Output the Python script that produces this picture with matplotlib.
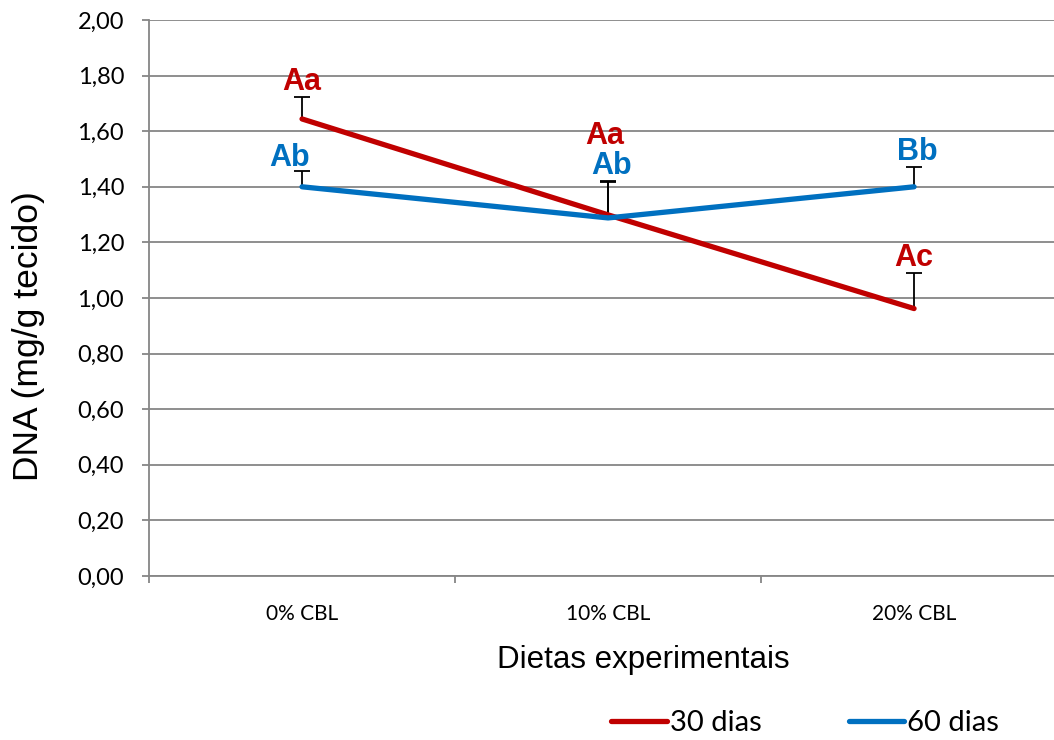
import matplotlib.pyplot as plt
import numpy as np

categorias = ['0% CBL', '10% CBL', '20% CBL']
dna_30 = [1.644, 1.299, 0.962]
erro_30 = [0.079, 0.121, 0.128]
dna_60 = [1.400, 1.288, 1.400]
erro_60 = [0.057, 0.129, 0.071]
letras_30 = ['Aa', 'Aa', 'Ac']
letras_60 = ['Ab', 'Ab', 'Bb']
yticks = [0.0, 0.2, 0.4, 0.6, 0.8, 1.0, 1.2, 1.4, 1.6, 1.8, 2.0]

VERMELHO = '#c00000'
AZUL = '#0070c0'

fig = plt.figure(figsize=(10.54, 7.40), dpi=100)
ax = fig.add_axes([0.1414, 0.2216, 0.871, 0.7514])

x = np.arange(len(categorias))

for y, e in [(dna_30, erro_30), (dna_60, erro_60)]:
    eb = ax.errorbar(x, y, yerr=[np.zeros(len(y)), e], fmt='none', ecolor='black',
                     elinewidth=1.3, capsize=6, capthick=1.3, zorder=2)
    eb[1][0].set_visible(False)

ax.plot(x, dna_30, color=VERMELHO, lw=3.8, solid_capstyle='round', zorder=3, label='30 dias')
ax.plot(x, dna_60, color=AZUL, lw=3.8, solid_capstyle='round', zorder=3, label='60 dias')

# letras de significancia, acima da barra de erro
rotulo = dict(fontsize=22, fontweight='bold', family='Liberation Sans',
              ha='center', va='center')
offs_30 = [(0, 0.055), (-0.01, 0.163), (0, 0.055)]
offs_60 = [(-0.04, 0.045), (0.01, 0.057), (0.01, 0.055)]
for i in range(len(categorias)):
    dx, dy = offs_30[i]
    ax.text(x[i] + dx, dna_30[i] + erro_30[i] + dy, letras_30[i], color=VERMELHO, **rotulo)
    dx, dy = offs_60[i]
    ax.text(x[i] + dx, dna_60[i] + erro_60[i] + dy, letras_60[i], color=AZUL, **rotulo)

ax.set_xlim(-0.5, 2.5)
ax.set_ylim(0, 2.0)
ax.set_yticks(yticks)
ax.set_yticklabels([f'{v:.2f}'.replace('.', ',') for v in yticks],
                   fontsize=17, family='Lato')
ax.set_xticks(x)
ax.set_xticklabels(categorias, fontsize=15, family='Lato')
ax.set_xticks([-0.5, 0.5, 1.5, 2.5], minor=True)
ax.tick_params(axis='x', which='major', length=0, pad=20)
ax.tick_params(axis='x', which='minor', length=5, color='#868686', width=1.3)
ax.tick_params(axis='y', length=5, color='#868686', width=1.3, pad=13)

ax.grid(axis='y', color='#868686', lw=1.3)
ax.set_axisbelow(True)
for s in ['top', 'right']:
    ax.spines[s].set_visible(False)
for s in ['left', 'bottom']:
    ax.spines[s].set_color('#868686')
    ax.spines[s].set_linewidth(1.3)

ax.set_ylabel('DNA (mg/g tecido)', fontsize=25.5, family='Liberation Sans',
              va='center')
ax.yaxis.set_label_coords(-0.1318, 0.432)
ax.set_xlabel('Dietas experimentais', fontsize=22.5, family='Liberation Sans',
              va='center')
ax.xaxis.set_label_coords(0.538, -0.151)

fig.legend(loc='lower left', bbox_to_anchor=(0.555, -0.03), ncol=2, frameon=False,
           prop={'family': 'Lato', 'size': 21}, handlelength=1.9, handletextpad=0.1,
           columnspacing=3.0)

fig.savefig('out.png', dpi=100)
